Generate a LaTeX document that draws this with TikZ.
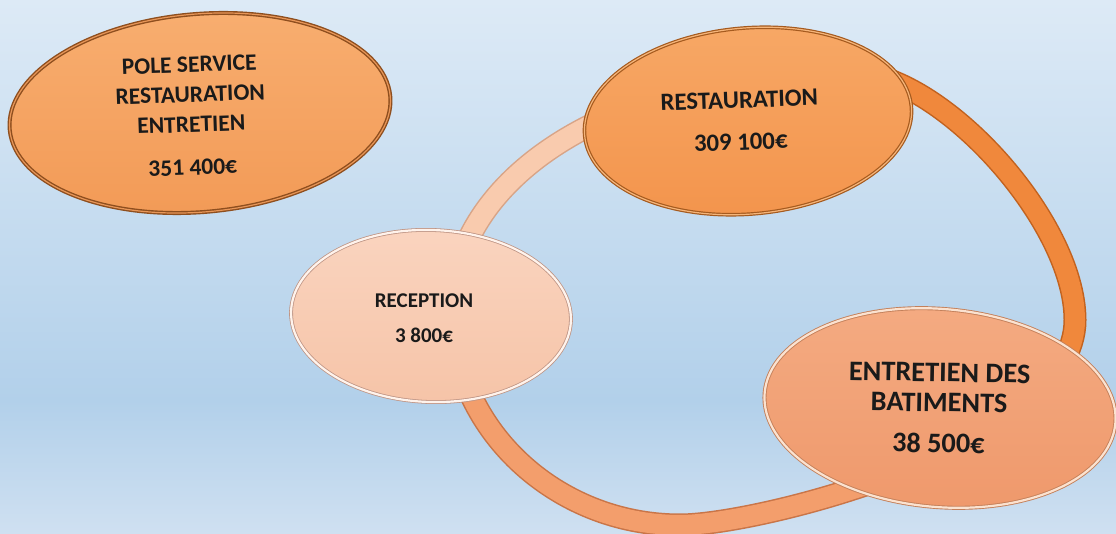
\documentclass[tikz,border=0pt]{standalone}
\usepackage{fontspec}
\setmainfont{Carlito}
\usetikzlibrary{shapes.geometric}
\definecolor{bgtop}{HTML}{DDEAF6}
\definecolor{bgmid}{HTML}{B2D0EA}
\definecolor{bgbot}{HTML}{CFE0F1}
\definecolor{ringpeach}{HTML}{F9CBAE}
\definecolor{ringpeachE}{HTML}{D8A487}
\definecolor{ringsalmon}{HTML}{F39E6C}
\definecolor{ringsalmonE}{HTML}{C97548}
\definecolor{ringdark}{HTML}{F0883C}
\definecolor{ringdarkE}{HTML}{C2621F}
\definecolor{txt}{HTML}{1A1A1A}
\definecolor{restoT}{HTML}{F7A866}
\definecolor{restoB}{HTML}{F3944C}
\definecolor{restoD}{HTML}{A55A1E}
\definecolor{restoL}{HTML}{F6B57A}
\definecolor{recepT}{HTML}{FAD4BF}
\definecolor{recepB}{HTML}{F6C4A8}
\definecolor{recepD}{HTML}{BF9585}
\definecolor{recepL}{HTML}{FFF3EC}
\definecolor{entreT}{HTML}{F4AB82}
\definecolor{entreB}{HTML}{EF996C}
\definecolor{entreD}{HTML}{C4805A}
\definecolor{entreL}{HTML}{FBE2D0}
\definecolor{poleT}{HTML}{F8AE70}
\definecolor{poleB}{HTML}{F29A56}
\definecolor{poleD}{HTML}{8E4E1E}
\definecolor{poleL}{HTML}{E89658}
\newcommand\ringloop[1]{\draw[#1] (850,72) .. controls (940,72) and (1075,221) .. (1075,320)
  .. controls (1075,445) and (760,525) .. (680,525)
  .. controls (555,525) and (452,428) .. (452,310)
  .. controls (452,185) and (600,72) .. (850,72);}
\begin{document}
\begin{tikzpicture}[x=1pt,y=-1pt,
  oval/.style={ellipse, inner sep=0pt},
  lbl/.style={align=center, text=txt, inner sep=0pt},
  ringedge/.style={line width=23pt},
  ringbody/.style={line width=20pt}]
\useasboundingbox (0,0) rectangle (1116,534);
\shade[top color=bgtop, bottom color=bgmid] (0,0) rectangle (1116,401);
\shade[top color=bgmid, bottom color=bgbot] (0,400) rectangle (1116,534);
% ring: three coloured arcs
\begin{scope}
  \clip (760,300) -- (-500,300) -- (-500,-600) -- (760,-600) -- cycle;
  \ringloop{ringedge, draw=ringpeachE}
  \ringloop{ringbody, draw=ringpeach}
\end{scope}
\begin{scope}
  \clip (760,300) -- (760,-600) -- (2000,-600) -- (2000,1230) -- cycle;
  \ringloop{ringedge, draw=ringdarkE}
  \ringloop{ringbody, draw=ringdark}
\end{scope}
\begin{scope}
  \clip (760,300) -- (2000,1230) -- (2000,1500) -- (-500,1500) -- (-500,300) -- cycle;
  \ringloop{ringedge, draw=ringsalmonE}
  \ringloop{ringbody, draw=ringsalmon}
\end{scope}
% ellipses
\node[oval, minimum width=328pt, minimum height=186pt, rotate=5,
  top color=restoT, bottom color=restoB, draw=restoD, double=restoL,
  double distance=1.2pt, line width=1.2pt] (resto) at (748,121) {};
\node[oval, minimum width=280pt, minimum height=172pt, rotate=-2,
  top color=recepT, bottom color=recepB, draw=recepD, double=recepL,
  double distance=2.2pt, line width=0.8pt] (recep) at (431,316) {};
\node[oval, minimum width=352pt, minimum height=198pt, rotate=-5,
  top color=entreT, bottom color=entreB, draw=entreD, double=entreL,
  double distance=2.2pt, line width=0.9pt] (entre) at (940,408) {};
\node[oval, minimum width=382pt, minimum height=198pt, rotate=5,
  top color=poleT, bottom color=poleB, draw=poleD, double=poleL,
  double distance=1.2pt, line width=1.4pt] (pole) at (200,113) {};
% texts
\node[lbl, rotate=2, font=\bfseries\fontsize{23.5}{30}\selectfont] (poletxt) at (191,116)
  {POLE SERVICE\\RESTAURATION\\ENTRETIEN\\[13pt]351 400€};
\node[lbl, rotate=2, font=\bfseries\fontsize{24.8}{30}\selectfont] (restotxt) at (740,121)
  {RESTAURATION\\[12pt]309 100€};
\node[lbl, font=\bfseries\fontsize{21}{26}\selectfont] (receptxt) at (424,318)
  {RECEPTION\\[9pt]3 800€};
\node[lbl, rotate=-1, font=\bfseries\fontsize{28.3}{30}\selectfont] (entretxt) at (939,408)
  {ENTRETIEN DES\\BATIMENTS\\[11pt]38 500€};
\end{tikzpicture}
\end{document}
